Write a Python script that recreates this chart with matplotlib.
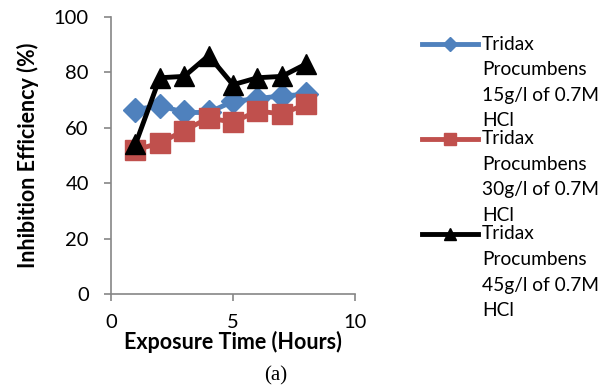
import matplotlib
matplotlib.use("Agg")
import matplotlib.pyplot as plt
from matplotlib.lines import Line2D

hours = [1, 2, 3, 4, 5, 6, 7, 8]
ie_15 = [66.5, 68.0, 65.5, 65.5, 69.5, 70.5, 71.5, 72.0]
ie_30 = [52.0, 54.5, 59.0, 63.5, 62.0, 66.0, 65.0, 68.5]
ie_45 = [54.0, 78.0, 78.5, 86.0, 75.5, 78.0, 78.5, 83.0]
labels = ["Tridax\nProcumbens\n15g/l of 0.7M\nHCl",
          "Tridax\nProcumbens\n30g/l of 0.7M\nHCl",
          "Tridax\nProcumbens\n45g/l of 0.7M\nHCl"]
colors = ["#4F81BD", "#C0504D", "#000000"]
markers = ["D", "s", "^"]
msizes = [12, 14, 14]

plt.rcParams['font.family'] = ['Lato', 'DejaVu Sans']

W, H = 613, 389
fig = plt.figure(figsize=(W/100, H/100), dpi=100)
ax = fig.add_axes([111/W, 1-294.3/H, (355-111)/W, (294.3-16.7)/H])

for y, c, m, ms in zip([ie_15, ie_30, ie_45], colors, markers, msizes):
    ax.plot(hours, y, color=c, lw=3.5, marker=m, ms=ms, mfc=c, mec=c, clip_on=False)

ax.set_xlim(0, 10)
ax.set_ylim(0, 100)
ax.set_xticks([0, 5, 10])
ax.set_yticks([0, 20, 40, 60, 80, 100])
for s in ['top', 'right']:
    ax.spines[s].set_visible(False)
for s in ['left', 'bottom']:
    ax.spines[s].set_color('#868686')
    ax.spines[s].set_linewidth(1.2)
ax.tick_params(axis='both', colors='#868686', labelcolor='black', labelsize=14.5,
               length=5, width=1.2, direction='out')
ax.tick_params(axis='y', pad=11)
ax.tick_params(axis='x', pad=9)
ax.set_xlabel("Exposure Time (Hours)", fontsize=15.5, fontweight='bold')
ax.set_ylabel("Inhibition Efficiency (%)", fontsize=15.5, fontweight='bold')
ax.xaxis.set_label_coords(0.5, (294.3-342)/277.6)
ax.xaxis.label.set_va('center')
ax.yaxis.set_label_coords((28-111)/244, 0.5)
ax.yaxis.label.set_va('center')

# legend
tops = [44, 139, 234]
for lab, c, m, ms, ty in zip(labels, colors, markers, msizes, tops):
    yy = 1 - ty/H
    ln = Line2D([422/W, 478/W], [yy, yy], transform=fig.transFigure, color=c, lw=3.5)
    fig.add_artist(ln)
    mk = Line2D([450/W], [yy], transform=fig.transFigure, color=c, marker=m, ms=ms*0.6, lw=0)
    fig.add_artist(mk)
    for k, part in enumerate(lab.split("\n")):
        fig.text(482/W, 1-(ty + k*25.5)/H, part, fontsize=13.8, va='center', ha='left')

fig.text(276/W, 1-376/H, "(a)", fontsize=15, family='Liberation Serif', ha='center', va='center')

fig.savefig("out.png", dpi=100)
